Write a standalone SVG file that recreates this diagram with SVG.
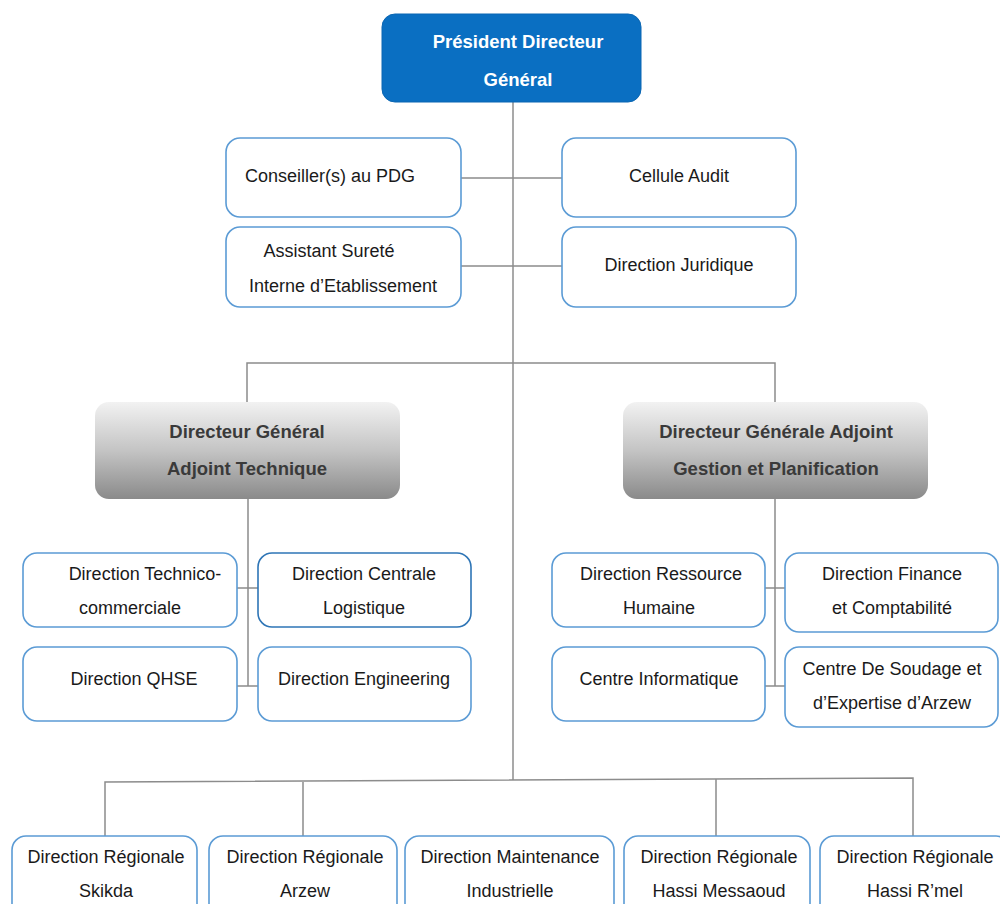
<svg xmlns="http://www.w3.org/2000/svg" width="1000" height="904" viewBox="0 0 1000 904">
<defs>
<linearGradient id="gray" x1="0" y1="0" x2="0" y2="1">
<stop offset="0" stop-color="#f2f2f2"/>
<stop offset="0.5" stop-color="#c4c4c4"/>
<stop offset="1" stop-color="#8a8a8a"/>
</linearGradient>
<style>
.box{fill:#fff;stroke:#5b9bd5;stroke-width:1.6}
.dark{stroke:#2e75b6}
.t{font-family:"Liberation Sans",Arial,sans-serif;font-size:18px;fill:#1a1a1a;text-anchor:middle}
.b{font-weight:bold;font-size:18.5px}
.w{fill:#fff}
.g{fill:#3a3a3a}
.ln{stroke:#8c8c8c;stroke-width:1.5;fill:none}
</style>
</defs>
<rect width="1000" height="904" fill="#fff"/>
<g id="connectors">
<path class="ln" d="M513 102V780"/>
<path class="ln" d="M461 178H562M461 266H562"/>
<path class="ln" d="M247 402V363H775V402"/>
<path class="ln" d="M248 499V686M237 588H258M237 686H258"/>
<path class="ln" d="M775 499V686M765 588H785M765 686H785"/>
<path class="ln" d="M105 836V782L913 778V836M303 781V836M716 779V836"/>
</g>
<g id="pdg">
<rect x="382" y="14" width="259" height="88" rx="13" fill="#0a6fc2" stroke="#0a66b3"/>
<text class="t b w" x="518" y="48">Président Directeur</text>
<text class="t b w" x="518" y="86">Général</text>
</g>
<g id="conseiller">
<rect class="box" x="226" y="138" width="235" height="79" rx="14"/>
<text class="t" x="330" y="182">Conseiller(s) au PDG</text>
</g>
<g id="audit">
<rect class="box" x="562" y="138" width="234" height="79" rx="14"/>
<text class="t" x="679" y="182">Cellule Audit</text>
</g>
<g id="assistant">
<rect class="box" x="226" y="227" width="235" height="80" rx="14"/>
<text class="t" x="329" y="257">Assistant Sureté</text>
<text class="t" x="343" y="292">Interne d’Etablissement</text>
</g>
<g id="juridique">
<rect class="box" x="562" y="227" width="234" height="80" rx="14"/>
<text class="t" x="679" y="271">Direction Juridique</text>
</g>
<g id="dga-tech">
<rect x="95" y="402" width="305" height="97" rx="14" fill="url(#gray)"/>
<text class="t b g" x="247" y="438">Directeur Général</text>
<text class="t b g" x="247" y="475">Adjoint Technique</text>
</g>
<g id="dga-gestion">
<rect x="623" y="402" width="305" height="97" rx="14" fill="url(#gray)"/>
<text class="t b g" x="776" y="438">Directeur Générale Adjoint</text>
<text class="t b g" x="776" y="475">Gestion et Planification</text>
</g>
<g id="technico">
<rect class="box" x="23" y="553" width="214" height="74" rx="14"/>
<text class="t" x="145" y="580">Direction Technico-</text>
<text class="t" x="130" y="614">commerciale</text>
</g>
<g id="logistique">
<rect class="box dark" x="258" y="553" width="213" height="74" rx="14"/>
<text class="t" x="364" y="580">Direction Centrale</text>
<text class="t" x="364" y="614">Logistique</text>
</g>
<g id="qhse">
<rect class="box" x="23" y="647" width="214" height="74" rx="14"/>
<text class="t" x="134" y="685">Direction QHSE</text>
</g>
<g id="engineering">
<rect class="box" x="258" y="647" width="213" height="74" rx="14"/>
<text class="t" x="364" y="685">Direction Engineering</text>
</g>
<g id="rh">
<rect class="box" x="552" y="553" width="213" height="74" rx="14"/>
<text class="t" x="661" y="580">Direction Ressource</text>
<text class="t" x="659" y="614">Humaine</text>
</g>
<g id="finance">
<rect class="box" x="785" y="553" width="213" height="79" rx="14"/>
<text class="t" x="892" y="580">Direction Finance</text>
<text class="t" x="892" y="614">et Comptabilité</text>
</g>
<g id="informatique">
<rect class="box" x="552" y="647" width="213" height="74" rx="14"/>
<text class="t" x="659" y="685">Centre Informatique</text>
</g>
<g id="soudage">
<rect class="box" x="785" y="647" width="213" height="80" rx="14"/>
<text class="t" x="892" y="675">Centre De Soudage et</text>
<text class="t" x="892" y="709">d’Expertise d’Arzew</text>
</g>
<g id="skikda">
<rect class="box" x="12" y="836" width="185" height="90" rx="14"/>
<text class="t" x="106" y="863">Direction Régionale</text>
<text class="t" x="106" y="897">Skikda</text>
</g>
<g id="arzew">
<rect class="box" x="209" y="836" width="188" height="90" rx="14"/>
<text class="t" x="305" y="863">Direction Régionale</text>
<text class="t" x="305" y="897">Arzew</text>
</g>
<g id="maintenance">
<rect class="box" x="405" y="836" width="209" height="90" rx="14"/>
<text class="t" x="510" y="863">Direction Maintenance</text>
<text class="t" x="510" y="897">Industrielle</text>
</g>
<g id="hassi-messaoud">
<rect class="box" x="624" y="836" width="186" height="90" rx="14"/>
<text class="t" x="719" y="863">Direction Régionale</text>
<text class="t" x="719" y="897">Hassi Messaoud</text>
</g>
<g id="hassi-rmel">
<rect class="box" x="820" y="836" width="190" height="90" rx="14"/>
<text class="t" x="915" y="863">Direction Régionale</text>
<text class="t" x="915" y="897">Hassi R’mel</text>
</g>
</svg>
